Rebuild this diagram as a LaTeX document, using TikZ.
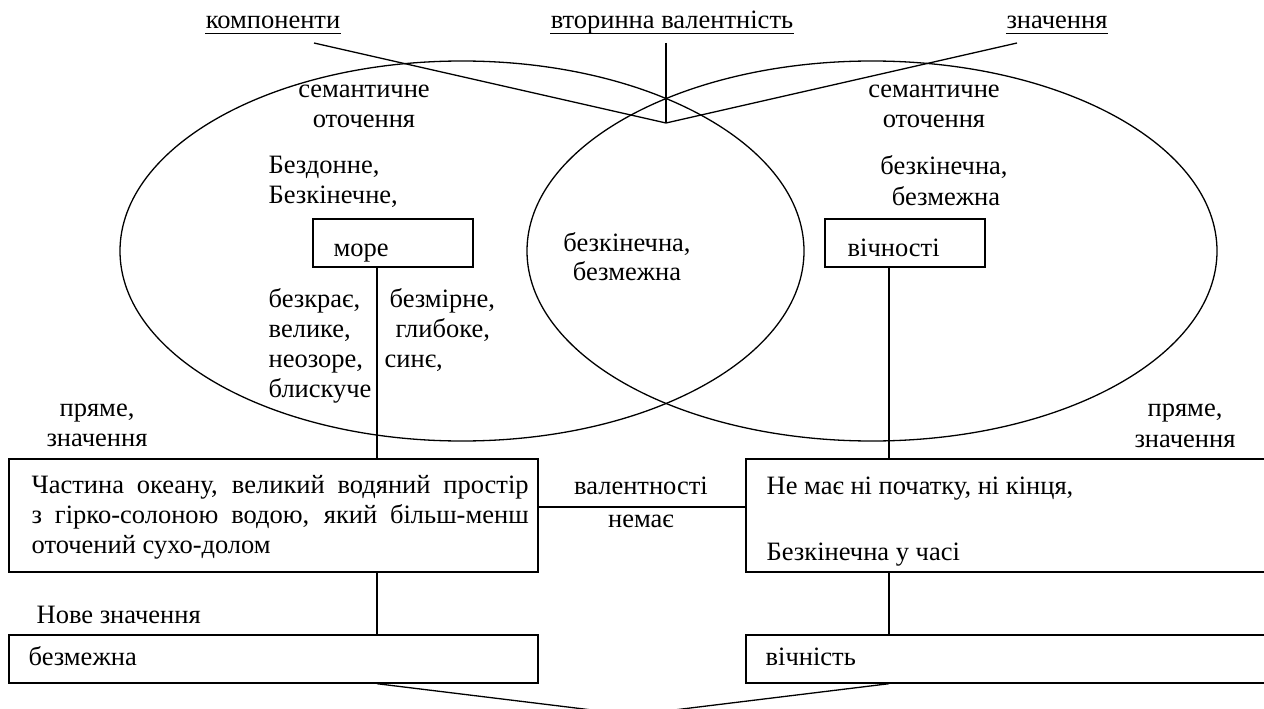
\documentclass[tikz,border=0pt]{standalone}
\usepackage{fontspec}
\setmainfont{Liberation Serif}
\begin{document}
\begin{tikzpicture}[x=1pt,y=-1pt,line width=1.3pt,
  every node/.style={font=\rmfamily\fontsize{26.5}{30.5}\selectfont, inner sep=0pt},
  lt/.style={anchor=base west},
  ct/.style={anchor=base},
  frame/.style={draw, line width=1.4pt, minimum width=#1, anchor=center}]
\useasboundingbox (0,0) rectangle (1264,709);
% ellipses
\draw (462,251) ellipse [x radius=342pt, y radius=190pt];
\draw (872,251) ellipse [x radius=345pt, y radius=190pt];
% top labels
\node[ct] (komp) at (273,29) {компоненти};
\node[ct] (vtor) at (672,29) {вторинна валентність};
\node[ct] (znach) at (1057,29) {значення};
\foreach \n in {komp,vtor,znach}
  \draw[line width=0.9pt] ([yshift=-4pt]\n.base west) -- ([yshift=-4pt]\n.base east);
% top connectors
\coordinate (kL) at (314,43);
\coordinate (vx) at (666,123);
\coordinate (vt) at (666,43);
\coordinate (kR) at (1017,43);
\draw (kL) -- (vx) -- (kR);
\draw (vt) -- (vx);
% semantic labels
\node[ct] (s1) at (364,97) {семантичне};
\node[ct] (s2) at (364,127) {оточення};
\node[ct] (s3) at (934,97) {семантичне};
\node[ct] (s4) at (934,127) {оточення};
\node[lt] (a1) at (268,173) {Бездонне,};
\node[lt] (a2) at (268,203) {Безкінечне,};
\node[lt] (a3) at (268,307) {безкрає,};
\node[lt] (a4) at (268,337) {велике,};
\node[lt] (a5) at (268,367) {неозоре,};
\node[lt] (a6) at (268,397) {блискуче};
\node[lt] (b1) at (389,307) {безмірне,};
\node[lt] (b2) at (395,337) {глибоке,};
\node[lt] (b3) at (384,367) {синє,};
\node[ct] (c1) at (627,251) {безкінечна,};
\node[ct] (c2) at (627,280) {безмежна};
\node[ct] (d1) at (944,174) {безкінечна,};
\node[ct] (d2) at (946,205) {безмежна};
% small boxes
\node[frame=160pt, minimum height=48pt] (more) at (393,243) {};
\node[lt] (moret) at (333,256) {море};
\node[frame=160pt, minimum height=48pt] (vich) at (905,243) {};
\node[lt] (vicht) at (847,256) {вічності};
% direct meaning labels
\node[ct] (p1) at (97,416) {пряме,};
\node[ct] (p2) at (97,446) {значення};
\node[ct] (p3) at (1185,416) {пряме,};
\node[ct] (p4) at (1185,447) {значення};
% big boxes
\node[frame=529pt, minimum height=113pt] (chast) at (273.5,515.5) {};
\node[frame=529pt, minimum height=113pt] (ne) at (1010.5,515.5) {};
\node[lt] (e1) at (31,493) {\makebox[497pt][s]{Частина океану, великий водяний простір}};
\node[lt] (e2) at (31,523) {\makebox[497pt][s]{з гірко-солоною водою, який більш-менш}};
\node[lt] (e3) at (31,553) {оточений сухо-долом};
\node[lt] (f1) at (766,494) {Не має ні початку, ні кінця,};
\node[lt] (f2) at (766,560) {Безкінечна у часі};
\node[ct] (v1) at (641,494) {валентності};
\node[ct] (v2) at (641,527) {немає};
% bottom boxes
\node[lt] (nz) at (36,623) {Нове значення};
\node[frame=529pt, minimum height=48pt] (bez) at (273.5,659) {};
\node[frame=529pt, minimum height=48pt] (vichn) at (1010.5,659) {};
\node[lt] (bezt) at (28,665) {безмежна};
\node[lt] (vichnt) at (765,665) {вічність};
% connectors
\coordinate (xl) at (377,0);
\coordinate (xr) at (889,0);
\coordinate (hl) at (0,507);
\coordinate (vb) at (633,715);
\draw (more.south -| xl) -- (chast.north -| xl);
\draw (chast.south -| xl) -- (bez.north -| xl);
\draw (vich.south -| xr) -- (ne.north -| xr);
\draw (ne.south -| xr) -- (vichn.north -| xr);
\draw (chast.east |- hl) -- (ne.west |- hl);
\draw (bez.south -| xl) -- (vb) -- (vichn.south -| xr);
\end{tikzpicture}
\end{document}
